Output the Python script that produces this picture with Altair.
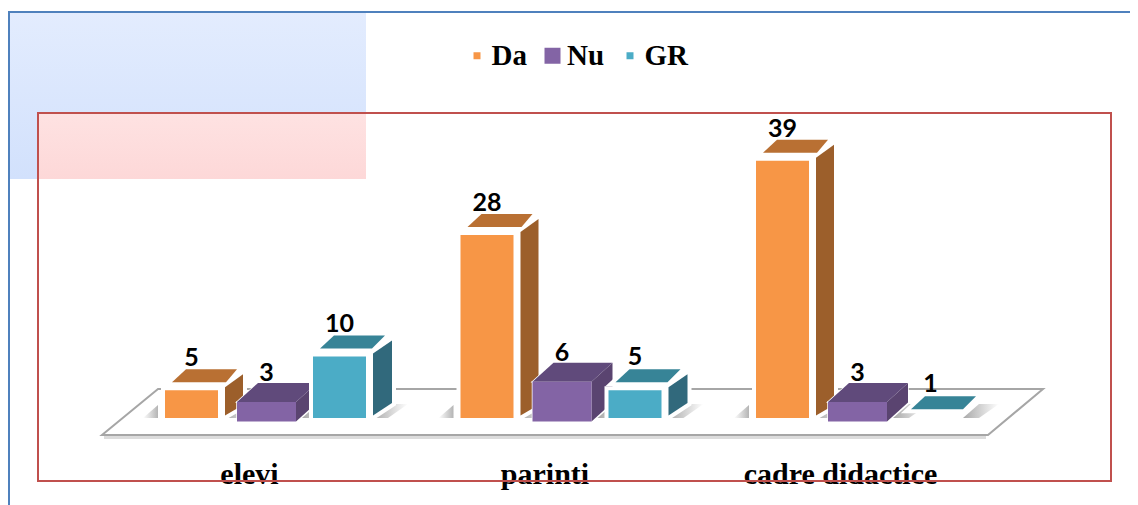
import altair as alt
import pandas as pd

categories = ["elevi", "parinti", "cadre didactice"]
series = ["Da", "Nu", "GR"]
da = [5, 28, 39]
nu = [3, 6, 3]
gr = [10, 5, 1]
values = {"Da": da, "Nu": nu, "GR": gr}

PX = 295.5      # pixels per category step
PY = 6.75       # pixels per value unit
W, H = 1122, 497
BASE = 0.9      # value level at which the floor meets the bars
X0 = 241        # plot x of first category

x_scale = alt.Scale(domain=[-X0 / PX, (W - X0) / PX], range=[0, W], nice=False, zero=False)
y_lo = BASE - (8 + H - 418) / PY
y_hi = BASE + (418 - 8) / PY
y_scale = alt.Scale(domain=[y_lo, y_hi], range=[H, 0], nice=False, zero=False)

x_axis = alt.Axis(values=[0, 1, 2], labelExpr="['elevi','parinti','cadre didactice'][datum.value]",
                  title=None, domain=False, ticks=False, grid=False, offset=483 - (8 + H), labelPadding=0,
                  labelBaseline="alphabetic", labelFont="Liberation Serif", labelFontWeight="bold",
                  labelFontSize=30, labelColor="#000000", labelOverlap=False, labelFlush=False, labelLimit=500)


def X(f):
    return alt.X(f + ":Q", scale=x_scale, axis=x_axis)


def Y(f):
    return alt.Y(f + ":Q", scale=y_scale, axis=None)


style = {
    "Da": dict(front="#f79646", top="#b97033", side="#9c5f2b", off=-84, w=53, lift=0, base=0, dy=-24,
               tb=(-8, -21), xb=(7, 8), xt=(21, 19), sx=(7, 25), st=(-3, -16), sb=2.5, sbr=13),
    "Nu": dict(front="#8364a5", top="#604a7b", side="#5a4470", off=-12, w=59, lift=0.27, base=-3.5 / PY, dy=-21,
               tb=(0, -19), xb=(0, 0), xt=(21, 21), sx=(0, 21), st=(0, -19), sb=0, sbr=19),
    "GR": dict(front="#4bacc6", top="#378497", side="#31697c", off=64, w=53, lift=0, base=0, dy=-25,
               tb=(-8, -21), xb=(7, 6), xt=(21, 19), sx=(7, 26), st=(-3, -16), sb=2.5, sbr=15),
}

one = pd.DataFrame({"a": [0]})


def gradient(stops, horizontal=False):
    return alt.Gradient(gradient="linear", stops=[alt.GradientStop(color=c, offset=o) for o, c in stops],
                        x1=0, x2=1 if horizontal else 0, y1=0, y2=0 if horizontal else 1)


layers = []

# backdrop panels
layers.append(alt.Chart(one).mark_rect(color=gradient([(0, "#e3ecfe"), (1, "#d2e1fc")])).encode(
    x=alt.value(0), x2=alt.value(358), y=alt.value(4), y2=alt.value(171)))
layers.append(alt.Chart(one).mark_rect(color=gradient([(0, "#fee2e2"), (1, "#fdd8d8")])).encode(
    x=alt.value(30), x2=alt.value(358), y=alt.value(105), y2=alt.value(171)))

# floor
floor = pd.DataFrame({
    "y": [BASE - 17 / PY, BASE + 29 / PY],
    "x": [(102 - 249) / PX, (158 - 249) / PX],
    "x2": [(988 - 249) / PX, (1043 - 249) / PX],
})
under = pd.DataFrame({"y": [BASE - 19.5 / PY], "x": [(104 - 249) / PX], "x2": [(986 - 249) / PX]})
layers.append(alt.Chart(under).mark_rule(color="#dcdcdc", strokeWidth=3).encode(
    x=X("x"), x2="x2:Q", y=Y("y")))
layers.append(alt.Chart(floor).mark_area(orient="horizontal", fill="#ffffff", stroke="#a6a6a6", strokeWidth=2).encode(
    y=Y("y"), x=X("x"), x2="x2:Q"))

# foot shadows
shadow_rows, left_rows = [], []
for s in series:
    st = style[s]
    for i, v in enumerate(values[s]):
        L = i + st["off"] / PX
        R = L + st["w"] / PX
        shadow_rows += [
            dict(id=f"{s}{i}", y=BASE, x=R + 6 / PX, x2=R + 22 / PX),
            dict(id=f"{s}{i}", y=BASE + 14 / PY, x=R + 22 / PX, x2=R + 42 / PX),
        ]
    if s == "Da":
        for i in range(len(categories)):
            L = i + st["off"] / PX
            left_rows += [
                dict(id=f"l{i}", y=BASE, x=L - 22 / PX, x2=L - 7 / PX),
                dict(id=f"l{i}", y=BASE + 13 / PY, x=L - 7 / PX, x2=L - 7 / PX),
            ]
layers.append(alt.Chart(pd.DataFrame(shadow_rows)).mark_area(
    orient="horizontal", color=gradient([(0, "#a8a8a8"), (1, "#ffffff")], True)).encode(
    y=Y("y"), x=X("x"), x2="x2:Q", detail="id:N"))
layers.append(alt.Chart(pd.DataFrame(left_rows)).mark_area(
    orient="horizontal", color=gradient([(0, "#ffffff"), (1, "#b4b4b4")], True)).encode(
    y=Y("y"), x=X("x"), x2="x2:Q", detail="id:N"))

# bars, one series at a time so that later series overlap earlier ones
for s in series:
    st = style[s]
    front_rows, top_rows, side_rows = [], [], []
    for i, v in enumerate(values[s]):
        L = i + st["off"] / PX
        R = L + st["w"] / PX
        t = v + st["lift"]
        b = BASE + st["base"]
        if v > 1:
            front_rows.append(dict(id=i, L=L, R=R, t=t, b=b))
            side_rows += [
                dict(id=i, x=R + st["sx"][0] / PX, y=t - st["st"][0] / PY, y2=b + st["sb"] / PY),
                dict(id=i, x=R + st["sx"][1] / PX, y=t - st["st"][1] / PY, y2=b + st["sbr"] / PY),
            ]
        top_rows += [
            dict(id=i, y=t - st["tb"][0] / PY, x=L + st["xb"][0] / PX, x2=R + st["xb"][1] / PX),
            dict(id=i, y=t - st["tb"][1] / PY, x=L + st["xt"][0] / PX, x2=R + st["xt"][1] / PX),
        ]
    front = pd.DataFrame(front_rows)
    top = pd.DataFrame(top_rows)
    side = pd.DataFrame(side_rows)

    def side_layer(**kw):
        return alt.Chart(side).mark_area(orient="vertical", **kw).encode(
            x=X("x"), y=Y("y"), y2="y2:Q", detail="id:N")

    def top_layer(**kw):
        return alt.Chart(top).mark_area(orient="horizontal", **kw).encode(
            y=Y("y"), x=X("x"), x2="x2:Q", detail="id:N")

    def front_layer(**kw):
        return alt.Chart(front).mark_bar(**kw).encode(
            x=X("L"), x2="R:Q", y=Y("t"), y2="b:Q")

    halo = dict(fill="#ffffff", stroke="#ffffff", strokeWidth=8 if s != "Nu" else 1.5)
    layers += [side_layer(**halo), top_layer(**halo), front_layer(**halo),
               side_layer(color=st["side"]), top_layer(color=st["top"]), front_layer(color=st["front"])]

# value labels
for s in series:
    st = style[s]
    lab = pd.DataFrame([
        dict(x=i + (st["off"] + st["w"] / 2) / PX, y=v + st["lift"], v=v) for i, v in enumerate(values[s])
    ])
    layers.append(alt.Chart(lab).mark_text(
        font="Lato", fontWeight="bold", fontSize=25, color="#000000", baseline="alphabetic", dy=st["dy"]
    ).encode(x=X("x"), y=Y("y"), text="v:Q"))

# frames
layers.append(alt.Chart(one).mark_rule(color="#4f81bd", strokeWidth=2).encode(
    x=alt.value(0), x2=alt.value(W), y=alt.value(4)))
layers.append(alt.Chart(one).mark_rule(color="#4f81bd", strokeWidth=2).encode(
    x=alt.value(1), y=alt.value(4), y2=alt.value(H)))
layers.append(alt.Chart(one).mark_rect(filled=False, stroke="#c0504d", strokeWidth=2).encode(
    x=alt.value(30), x2=alt.value(1103), y=alt.value(105), y2=alt.value(473)))

# legend (carried by a layer with no visible points)
legend = alt.Legend(title=None, orient="none", legendX=454.5, legendY=33, direction="horizontal",
                    symbolType="square", symbolStrokeWidth=0, columnPadding=10.5, labelOffset=0,
                    labelFont="Liberation Serif", labelFontWeight="bold", labelFontSize=29,
                    labelColor="#000000", symbolOpacity=1)
keys = pd.DataFrame({"s": series})
layers.append(alt.Chart(keys).transform_filter("false").mark_square(opacity=1).encode(
    x=X("a"), y=Y("a"),
    color=alt.Color("s:N", scale=alt.Scale(domain=series, range=[style[s]["front"] for s in series]), legend=legend),
    size=alt.Size("s:N", scale=alt.Scale(type="ordinal", domain=series, range=[49, 256, 49]), legend=legend),
))

chart = alt.layer(*layers).properties(width=W, height=H, padding=0, background="#ffffff",
                                      autosize=alt.AutoSizeParams(type="none")).configure_view(strokeWidth=0)
chart.save("out.html", embed_options={"renderer": "svg", "actions": False})
